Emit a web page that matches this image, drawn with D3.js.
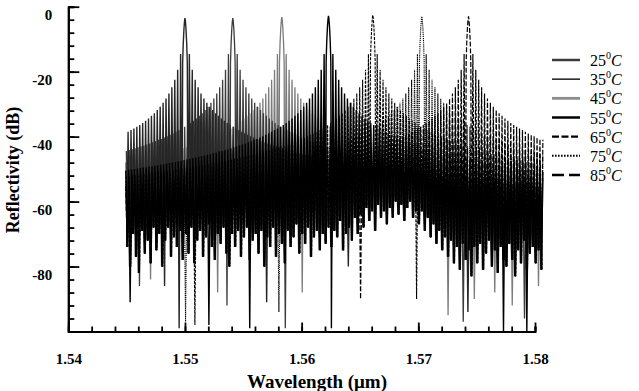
<!DOCTYPE html>
<html>
<head>
<meta charset="utf-8">
<script src="https://cdn.jsdelivr.net/npm/d3@7/dist/d3.min.js"></script>
<style>
  body { margin: 0; background: #fff; }
  text { font-family: "Liberation Serif", "Times New Roman", serif; }
</style>
</head>
<body>
<svg id="plot" width="639" height="391"></svg>
<script>
// ---- data ----
const temps = [25, 35, 45, 55, 65, 75, 85];
const peakWl = [1.5500, 1.5541, 1.5583, 1.5623, 1.5661, 1.5703, 1.5743];
const peakDb = [-3.5, -3.5, -3.2, -2.8, -2.6, -3.0, -3.0];

// main lobe: offset from the peak (um) and drop below the peak (dB)
const mainOffset = [0, 0.00004, 0.00009, 0.00015, 0.0002];
const mainDrop = [0, -1, -3.5, -8, -14];

// side lobes, spaced sidePeriod apart, top level of lobe k (k = 1, 2, ...)
const sidePeriod = 0.00025;
const sideTopDb = [
  -14.6,-19.4,-22.5,-24.8,-26.7,-28.3,-29.6,-30.8,-31.8,-32.8,
  -33.6,-34.4,-35.1,-35.8,-36.4,-37.0,-37.5,-38.0,-38.5,-39.0,
  -39.4,-39.9,-40.3,-40.7,-41.0,-41.4,-41.7,-42.1,-42.4,-42.7,
  -43.0,-43.3,-43.6,-43.9,-44.1,-44.4,-44.6,-44.9,-45.1,-45.4,
  -45.6,-45.8,-46.0,-46.2,-46.4,-46.6,-46.8,-47.0,-47.2,-47.4,
  -47.6,-47.8,-48.0,-48.1,-48.3,-48.5,-48.6,-48.8,-48.9,-49.1,
  -49.2,-49.4,-49.5,-49.7,-49.8,-50.0,-50.1,-50.2,-50.4,-50.5,
  -50.6,-50.8,-50.9,-51.0,-51.1,-51.3,-51.4,-51.5,-51.6,-51.8,
  -51.9,-52.0,-52.1,-52.2,-52.3,-52.4,-52.5,-52.6,-52.8,-52.9,
  -53.0,-53.1,-53.2,-53.3,-53.3,-53.4,-53.5,-53.6,-53.7,-53.8,
  -53.9,-54.0,-54.1,-54.2,-54.2,-54.3,-54.4,-54.5,-54.6,-54.7,
  -54.7,-54.8,-54.9,-55.0,-55.0,-55.1,-55.2,-55.3,-55.3,-55.4,
  -55.5,-55.6,-55.6,-55.7
];

// simulated window and null depth per wavelength bin (bin width = sidePeriod)
const windowWl = [1.5449, 1.5807];
const nullDb = [
  -74,-80,-70,-77,-82,-69,-76,-72,-79,-68,
  -75,-70,-80,-72,-68,-77,-71,-74,-69,-78,
  -70,-76,-68,-79,-72,-69,-77,-71,-67,-74,
  -78,-70,-73,-68,-76,-80,-70,-74,-69,-77,
  -71,-68,-78,-72,-70,-76,-69,-80,-71,-74,
  -68,-77,-70,-73,-79,-69,-74,-71,-67,-76,
  -70,-73,-68,-77,-71,-69,-75,-70,-73,-68,
  -74,-69,-71,-66,-75,-70,-68,-72,-65,-70,
  -64,-68,-62,-66,-63,-69,-61,-65,-63,-67,
  -62,-65,-60,-64,-61,-66,-62,-60,-65,-63,
  -67,-63,-69,-65,-71,-67,-73,-69,-75,-71,
  -77,-72,-79,-74,-81,-73,-78,-75,-83,-74,
  -79,-73,-81,-76,-72,-80,-75,-82,-74,-78,
  -80,-73,-78,-83,-75,-79,-72,-81,-76,-74,
  -79,-75,-81,-73
];

// deep nulls seen in the figure: [wavelength, dB, curve index]
const deepSpikes = [
  [1.54492,-85,5],[1.54535,-91,3],[1.54615,-86,1],[1.54717,-84,2],[1.54820,-86,0],
  [1.54949,-99,0],[1.55009,-97,5],[1.55077,-98,4],[1.55206,-98,3],[1.55275,-88,2],
  [1.55369,-92,1],[1.55557,-99,3],[1.55703,-91,0],[1.55814,-94,5],[1.55866,-99,1],
  [1.56003,-88,2],[1.56243,-99,3],[1.56389,-80,0],[1.56500,-90,6],[1.56989,-90,4],
  [1.57246,-95,2],[1.57375,-97,1],[1.57426,-94,0],[1.57469,-90,2],[1.57658,-88,2],
  [1.57726,-100,3],[1.57812,-92,2],[1.57898,-96,1],[1.57932,-100,3],[1.58026,-86,2]
];

const xTicks = [1.54, 1.55, 1.56, 1.57, 1.58];
const yTicks = [0, -20, -40, -60, -80];

// ---- styles ----
const lineColor = ['#262626', '#3c3c3c', '#7c7c7c', '#000', '#000', '#000', '#000'];
const lineWidth = [1.4, 1.3, 1.3, 1.4, 1.1, 1.1, 1.2];
const lineDash = [null, null, null, null, '3,1.2', '1.2,0.9', '5,1.8'];
const drawOrder = [2, 1, 0, 3, 4, 5, 6];
const legColor = ['#3c3c3c', '#2a2a2a', '#8c8c8c', '#000', '#000', '#000', '#000'];
const legWidth = [2.5, 1.6, 2.8, 2.5, 2.2, 2, 2.5];
const legDash = [null, null, null, null, '7,2.5', '1.6,1.4', '12,5'];

const plot = d3.select('#plot');

const xScale = d3.scaleLinear().domain([1.54, 1.58]).range([68.3, 535]);
const yScale = d3.scaleLinear().domain([-100, 0]).range([331.5, 6.7]);

function buildCurve(c) {
  const lc = peakWl[c], pk = peakDb[c];
  const pts = [];
  mainOffset.forEach((o, i) => {
    pts.push([lc - o, pk + mainDrop[i]]);
    if (o > 0) pts.push([lc + o, pk + mainDrop[i]]);
  });
  const deep = new Map();
  deepSpikes.filter(s => s[2] === c)
    .forEach(s => deep.set(Math.round((s[0] - lc) / sidePeriod), s[1]));
  sideTopDb.forEach((top, k) => {
    const j = k + 1;
    [-1, 1].forEach(sgn => {
      const ln = lc + sgn * j * sidePeriod;
      const bin = Math.max(0, Math.min(nullDb.length - 1,
        Math.floor((ln - windowWl[0]) / sidePeriod)));
      pts.push([ln, deep.has(sgn * j) ? deep.get(sgn * j) : nullDb[bin]]);
      pts.push([lc + sgn * (j + 0.5) * sidePeriod, top]);
    });
  });
  return pts.filter(d => d[0] >= windowWl[0] && d[0] <= windowWl[1])
            .sort((a, b) => a[0] - b[0]);
}

const line = d3.line()
  .x(d => xScale(d[0]))
  .y(d => yScale(d[1]));

plot.append('g').classed('curves', true)
  .selectAll('path')
  .data(drawOrder)
  .join('path')
  .attr('d', i => line(buildCurve(i)))
  .attr('fill', 'none')
  .attr('stroke', i => lineColor[i])
  .attr('stroke-width', i => lineWidth[i])
  .attr('stroke-dasharray', i => lineDash[i])
  .attr('stroke-linejoin', 'miter');

// axes
const xMinor = d3.range(0, 21).map(i => 1.54 + i * 0.002);
const yMinor = d3.range(0, 25).map(i => -i * 4);

plot.append('g')
  .classed('xAxis', true)
  .attr('transform', `translate(0, ${yScale(-100)})`)
  .call(d3.axisBottom(xScale).tickValues(xMinor).tickSize(-5).tickFormat(''));

plot.append('g')
  .classed('xAxis', true)
  .attr('transform', `translate(0, ${yScale(-100)})`)
  .call(d3.axisBottom(xScale).tickValues(xTicks)
    .tickSizeInner(-9).tickSizeOuter(0).tickPadding(22)
    .tickFormat(d3.format('.2f')));

plot.append('g')
  .classed('yAxis', true)
  .attr('transform', `translate(${xScale(1.54)}, 0)`)
  .call(d3.axisLeft(yScale).tickValues(yMinor).tickSize(-6).tickFormat(''));

plot.append('g')
  .classed('yAxis', true)
  .attr('transform', `translate(${xScale(1.54)}, 0)`)
  .call(d3.axisLeft(yScale).tickValues(yTicks)
    .tickSizeInner(-11).tickSizeOuter(0).tickPadding(16)
    .tickFormat(d => String(d)));

plot.selectAll('.xAxis .domain, .yAxis .domain')
  .attr('stroke', '#000').attr('stroke-width', 2);
plot.selectAll('.xAxis .tick line, .yAxis .tick line')
  .attr('stroke', '#000').attr('stroke-width', 1.8);
plot.selectAll('.xAxis text, .yAxis text')
  .style('font-family', '"Liberation Serif", "Times New Roman", serif')
  .style('font-size', '15px')
  .style('font-weight', 'bold')
  .attr('fill', '#000');
plot.selectAll('.yAxis text').attr('dy', '0.86em');

// axis titles
plot.append('text')
  .attr('x', 317).attr('y', 388)
  .attr('text-anchor', 'middle')
  .style('font-size', '19px').style('font-weight', 'bold')
  .text('Wavelength (\u03bcm)');

plot.append('text')
  .attr('transform', 'translate(19, 170) rotate(-90)')
  .attr('text-anchor', 'middle')
  .style('font-size', '18px').style('font-weight', 'bold')
  .text('Reflectivity (dB)');

// legend
const legY = d3.scalePoint().domain(temps).range([60, 175]);
const legend = plot.append('g').classed('legend', true);

legend.selectAll('line')
  .data(temps)
  .join('line')
  .attr('x1', 552).attr('x2', 580)
  .attr('y1', d => legY(d)).attr('y2', d => legY(d))
  .attr('stroke', (d, i) => legColor[i])
  .attr('stroke-width', (d, i) => legWidth[i])
  .attr('stroke-dasharray', (d, i) => legDash[i]);

const legText = legend.selectAll('text')
  .data(temps)
  .join('text')
  .attr('x', 590)
  .attr('y', d => legY(d) + 6)
  .style('font-size', '16px');
legText.append('tspan').text(d => d);
legText.append('tspan').attr('dy', -7).style('font-size', '10px').text('0');
legText.append('tspan').attr('dy', 7).style('font-style', 'italic').text('C');
</script>
</body>
</html>
